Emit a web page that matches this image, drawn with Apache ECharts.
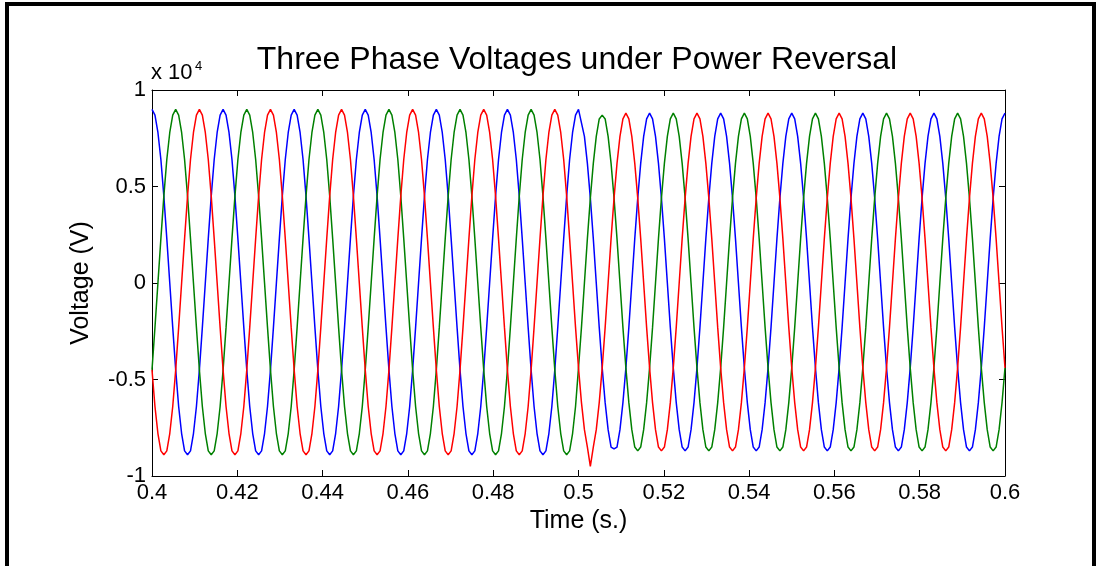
<!DOCTYPE html>
<html><head><meta charset="utf-8">
<script src="https://cdn.jsdelivr.net/npm/echarts@6/dist/echarts.min.js"></script>
<style>html,body{margin:0;padding:0;background:#fff}#c{width:1102px;height:566px}</style>
</head><body><div id="c"></div><script>
// Sampling grid of the recorded waveforms (s); values are in units of 1e4 V
const tStart = 0.4;
const sampleStep = 1 / 60 / 24;

// Phase A (blue)
const phaseA = [
.9,.87,.78,.64,.45,.23,0,-.23,-.45,-.64,-.78,-.87,-.89,-.87,-.78,-.64,-.45,-.23,0,.23,.45,.64,.78,.87,
.9,.87,.78,.64,.45,.23,0,-.23,-.45,-.64,-.78,-.87,-.89,-.87,-.78,-.64,-.45,-.23,0,.23,.45,.64,.78,.87,
.9,.87,.78,.64,.45,.23,0,-.23,-.45,-.64,-.78,-.87,-.89,-.87,-.78,-.64,-.45,-.23,0,.23,.45,.64,.78,.87,
.9,.87,.78,.64,.45,.23,0,-.23,-.45,-.64,-.78,-.87,-.89,-.87,-.78,-.64,-.45,-.23,0,.23,.45,.64,.78,.87,
.9,.87,.78,.64,.45,.23,0,-.23,-.45,-.64,-.78,-.87,-.89,-.87,-.78,-.64,-.45,-.23,0,.23,.45,.64,.78,.87,
.9,.87,.78,.64,.45,.23,0,-.23,-.45,-.64,-.78,-.87,-.89,-.87,-.78,-.64,-.45,-.23,0,.23,.45,.64,.78,.87,
.9,.83,.76,.62,.44,.23,0,-.23,-.44,-.62,-.76,-.85,-.86,-.85,-.76,-.62,-.44,-.23,0,.23,.44,.62,.76,.85,
.88,.85,.76,.62,.44,.23,0,-.23,-.44,-.62,-.76,-.85,-.87,-.85,-.76,-.62,-.44,-.23,0,.23,.44,.62,.76,.85,
.88,.85,.76,.62,.44,.23,0,-.23,-.44,-.62,-.76,-.85,-.87,-.85,-.76,-.62,-.44,-.23,0,.23,.44,.62,.76,.85,
.88,.85,.76,.62,.44,.23,0,-.23,-.44,-.62,-.76,-.85,-.87,-.85,-.76,-.62,-.44,-.23,0,.23,.44,.62,.76,.85,
.88,.85,.76,.62,.44,.23,0,-.23,-.44,-.62,-.76,-.85,-.87,-.85,-.76,-.62,-.44,-.23,0,.23,.44,.62,.76,.85,
.88,.85,.76,.62,.44,.23,0,-.23,-.44,-.62,-.76,-.85,-.87,-.85,-.76,-.62,-.44,-.23,0,.23,.44,.62,.76,.85,
.88
];

// Phase B (green)
const phaseB = [
-.45,-.23,0,.23,.45,.64,.78,.87,.9,.87,.78,.64,.45,.23,0,-.23,-.45,-.64,-.78,-.87,-.89,-.87,-.78,-.64,
-.45,-.23,0,.23,.45,.64,.78,.87,.9,.87,.78,.64,.45,.23,0,-.23,-.45,-.64,-.78,-.87,-.89,-.87,-.78,-.64,
-.45,-.23,0,.23,.45,.64,.78,.87,.9,.87,.78,.64,.45,.23,0,-.23,-.45,-.64,-.78,-.87,-.89,-.87,-.78,-.64,
-.45,-.23,0,.23,.45,.64,.78,.87,.9,.87,.78,.64,.45,.23,0,-.23,-.45,-.64,-.78,-.87,-.89,-.87,-.78,-.64,
-.45,-.23,0,.23,.45,.64,.78,.87,.9,.87,.78,.64,.45,.23,0,-.23,-.45,-.64,-.78,-.87,-.89,-.87,-.78,-.64,
-.45,-.23,0,.23,.45,.64,.78,.87,.9,.87,.78,.64,.45,.23,0,-.23,-.45,-.64,-.78,-.87,-.89,-.87,-.78,-.64,
-.44,-.23,0,.23,.44,.62,.76,.85,.87,.85,.76,.62,.44,.23,0,-.23,-.44,-.62,-.76,-.85,-.87,-.85,-.76,-.62,
-.44,-.23,0,.23,.44,.62,.76,.85,.88,.85,.76,.62,.44,.23,0,-.23,-.44,-.62,-.76,-.85,-.87,-.85,-.76,-.62,
-.44,-.23,0,.23,.44,.62,.76,.85,.88,.85,.76,.62,.44,.23,0,-.23,-.44,-.62,-.76,-.85,-.87,-.85,-.76,-.62,
-.44,-.23,0,.23,.44,.62,.76,.85,.88,.85,.76,.62,.44,.23,0,-.23,-.44,-.62,-.76,-.85,-.87,-.85,-.76,-.62,
-.44,-.23,0,.23,.44,.62,.76,.85,.88,.85,.76,.62,.44,.23,0,-.23,-.44,-.62,-.76,-.85,-.87,-.85,-.76,-.62,
-.44,-.23,0,.23,.44,.62,.76,.85,.88,.85,.76,.62,.44,.23,0,-.23,-.44,-.62,-.76,-.85,-.87,-.85,-.76,-.62,
-.44
];

// Phase C (red)
const phaseC = [
-.45,-.64,-.78,-.87,-.89,-.87,-.78,-.64,-.45,-.23,0,.23,.45,.64,.78,.87,.9,.87,.78,.64,.45,.23,0,-.23,
-.45,-.64,-.78,-.87,-.89,-.87,-.78,-.64,-.45,-.23,0,.23,.45,.64,.78,.87,.9,.87,.78,.64,.45,.23,0,-.23,
-.45,-.64,-.78,-.87,-.89,-.87,-.78,-.64,-.45,-.23,0,.23,.45,.64,.78,.87,.9,.87,.78,.64,.45,.23,0,-.23,
-.45,-.64,-.78,-.87,-.89,-.87,-.78,-.64,-.45,-.23,0,.23,.45,.64,.78,.87,.9,.87,.78,.64,.45,.23,0,-.23,
-.45,-.64,-.78,-.87,-.89,-.87,-.78,-.64,-.45,-.23,0,.23,.45,.64,.78,.87,.9,.87,.78,.64,.45,.23,0,-.23,
-.45,-.64,-.78,-.87,-.89,-.87,-.78,-.64,-.45,-.23,0,.23,.45,.64,.78,.87,.9,.87,.78,.64,.45,.23,0,-.23,
-.44,-.62,-.76,-.85,-.95,-.85,-.76,-.62,-.44,-.23,0,.23,.44,.62,.76,.85,.88,.85,.76,.62,.44,.23,0,-.23,
-.44,-.62,-.76,-.85,-.87,-.85,-.76,-.62,-.44,-.23,0,.23,.44,.62,.76,.85,.88,.85,.76,.62,.44,.23,0,-.23,
-.44,-.62,-.76,-.85,-.87,-.85,-.76,-.62,-.44,-.23,0,.23,.44,.62,.76,.85,.88,.85,.76,.62,.44,.23,0,-.23,
-.44,-.62,-.76,-.85,-.87,-.85,-.76,-.62,-.44,-.23,0,.23,.44,.62,.76,.85,.88,.85,.76,.62,.44,.23,0,-.23,
-.44,-.62,-.76,-.85,-.87,-.85,-.76,-.62,-.44,-.23,0,.23,.44,.62,.76,.85,.88,.85,.76,.62,.44,.23,0,-.23,
-.44,-.62,-.76,-.85,-.87,-.85,-.76,-.62,-.44,-.23,0,.23,.44,.62,.76,.85,.88,.85,.76,.62,.44,.23,0,-.23,
-.44
];

const xTickLabels = ['0.4','0.42','0.44','0.46','0.48','0.5','0.52','0.54','0.56','0.58','0.6'];
const yTickLabels = ['-1','-0.5','0','0.5','1'];
const titleText = 'Three Phase Voltages under Power Reversal';
const xName = 'Time (s.)';
const yName = 'Voltage (V)';
const seriesNames = ['Va', 'Vb', 'Vc'];
const seriesColors = ['#0000ff', '#008000', '#ff0000'];

const FONT = '"Liberation Sans", Arial, sans-serif';
const toPairs = arr => arr.map((v, i) => [tStart + i * sampleStep, v]);
const xFmt = v => xTickLabels[Math.round((v - 0.4) / 0.02)] || '';
const yFmt = v => yTickLabels[Math.round((v + 1) / 0.5)] || '';

const chart = echarts.init(document.getElementById('c'), null, {renderer: 'canvas'});
const axisLine = {show: true, onZero: false, lineStyle: {color: '#000', width: 1}};
const tick = {show: true, inside: true, length: 6, lineStyle: {color: '#000'}};

chart.setOption({
  animation: false,
  backgroundColor: '#fff',
  grid: {left: 152, right: 97, top: 90, bottom: 90, show: false},
  xAxis: [{
    type: 'value', min: 0.4, max: 0.6, interval: 0.02, position: 'bottom',
    axisLine, axisTick: tick, splitLine: {show: false},
    axisLabel: {color: '#000', fontSize: 22, fontFamily: FONT, margin: 6, formatter: xFmt},
    name: xName, nameLocation: 'middle', nameGap: 32,
    nameTextStyle: {color: '#000', fontSize: 25, fontFamily: FONT}
  }, {
    type: 'value', min: 0.4, max: 0.6, interval: 0.02, position: 'top',
    axisLine, axisTick: tick, splitLine: {show: false}, axisLabel: {show: false}
  }],
  yAxis: [{
    type: 'value', min: -1, max: 1, interval: 0.5, position: 'left',
    axisLine, axisTick: tick, splitLine: {show: false},
    axisLabel: {color: '#000', fontSize: 22, fontFamily: FONT, margin: 6, formatter: yFmt},
    name: yName, nameLocation: 'middle', nameGap: 58,
    nameTextStyle: {color: '#000', fontSize: 25, fontFamily: FONT}
  }, {
    type: 'value', min: -1, max: 1, interval: 0.5, position: 'right',
    axisLine, axisTick: tick, splitLine: {show: false}, axisLabel: {show: false}
  }],
  series: [phaseA, phaseB, phaseC].map((d, i) => ({
    name: seriesNames[i], type: 'line', data: toPairs(d), showSymbol: false, symbol: 'none',
    xAxisIndex: 0, yAxisIndex: 0,
    lineStyle: {color: seriesColors[i], width: 1.5}, itemStyle: {color: seriesColors[i]}
  })),
  graphic: [
    {type: 'text', x: 577, y: 60, style: {text: titleText, font: '32px ' + FONT, fill: '#000', textAlign: 'center', textVerticalAlign: 'middle'}},
    {type: 'text', x: 151, y: 84, style: {text: 'x 10', font: '22px ' + FONT, fill: '#000', textAlign: 'left', textVerticalAlign: 'bottom'}},
    {type: 'text', x: 195, y: 66, style: {text: '4', font: '13px ' + FONT, fill: '#000', textAlign: 'left', textVerticalAlign: 'middle'}},
    {type: 'line', shape: {x1: 5, y1: 4, x2: 1096, y2: 4}, style: {stroke: '#000', lineWidth: 4}},
    {type: 'line', shape: {x1: 7, y1: 2, x2: 7, y2: 566}, style: {stroke: '#000', lineWidth: 4}},
    {type: 'line', shape: {x1: 1094, y1: 2, x2: 1094, y2: 566}, style: {stroke: '#000', lineWidth: 4}}
  ]
});
</script></body></html>
